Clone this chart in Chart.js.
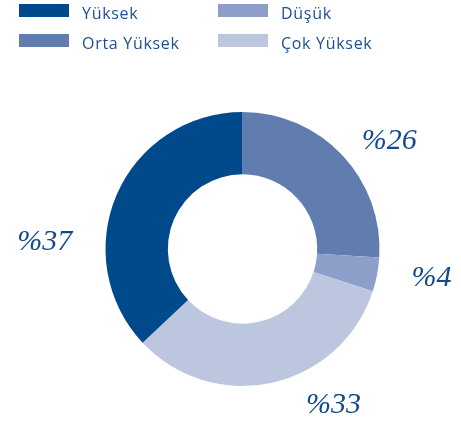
<!DOCTYPE html>
<html>
<head>
<meta charset="utf-8">
<script src="https://cdn.jsdelivr.net/npm/chart.js@4"></script>
<style>
  html, body { margin: 0; padding: 0; background: #fff; }
  #wrap { position: relative; width: 461px; height: 423px; overflow: hidden; }
  #c { position: absolute; left: 0; top: 0; }
  .leg { position: absolute; font-family: "Open Sans", sans-serif; font-size: 16px; color: #1d4f8e; line-height: 1; white-space: nowrap; letter-spacing: 0.7px; }
  .leg .sw { position: absolute; left: 0; top: 0; width: 50px; height: 13px; }
  .leg .tx { position: absolute; left: 63px; top: 1px; }
</style>
</head>
<body>
<div id="wrap">
  <canvas id="c" width="461" height="423"></canvas>
  <div id="legend"></div>
</div>
<script>
// Data (clockwise from top)
const categories = ["Orta Yüksek", "Düşük", "Çok Yüksek", "Yüksek"];
const values = [26, 4, 33, 37];
const valueLabels = ["%26", "%4", "%33", "%37"];
const colors = ["#617daf", "#8d9fc8", "#bcc7df", "#004a8c"];
// Legend order (row-major, 2 columns)
const legendOrder = ["Yüksek", "Düşük", "Orta Yüksek", "Çok Yüksek"];

// label placement: angle from top (deg, clockwise) and distance as fraction of outer radius
const labelPlacement = [
  { angle: 53.6, dist: 1.33 },
  { angle: 98.7, dist: 1.395 },
  { angle: 149.7, dist: 1.318 },
  { angle: 272, dist: 1.445 }
];

// HTML legend
const legendEl = document.getElementById('legend');
const colX = [19, 218];
const rowY = [3.5, 34];
legendOrder.forEach((name, i) => {
  const idx = categories.indexOf(name);
  const d = document.createElement('div');
  d.className = 'leg';
  d.style.left = colX[i % 2] + 'px';
  d.style.top = rowY[Math.floor(i / 2)] + 'px';
  d.innerHTML = '<div class="sw" style="background:' + colors[idx] + '"></div><div class="tx">' + name + '</div>';
  legendEl.appendChild(d);
});

const labelPlugin = {
  id: 'valueLabels',
  afterDatasetsDraw(chart) {
    const ctx = chart.ctx;
    const meta = chart.getDatasetMeta(0);
    ctx.save();
    ctx.font = 'italic 30px "Liberation Serif", serif';
    ctx.fillStyle = '#124b8b';
    ctx.textAlign = 'center';
    ctx.textBaseline = 'middle';
    meta.data.forEach((arc, i) => {
      const p = labelPlacement[i];
      const a = p.angle * Math.PI / 180;
      const r = arc.outerRadius * p.dist;
      const x = arc.x + Math.sin(a) * r;
      const y = arc.y - Math.cos(a) * r;
      ctx.fillText(valueLabels[i], x, y);
    });
    ctx.restore();
  }
};

new Chart(document.getElementById('c'), {
  type: 'doughnut',
  data: {
    labels: categories,
    datasets: [{
      data: values,
      backgroundColor: colors,
      borderWidth: 0,
      hoverOffset: 0,
      offset: 0
    }]
  },
  options: {
    responsive: false,
    animation: false,
    cutout: '54.5%',
    layout: { padding: { left: 105.5, right: 81.5, top: 112, bottom: 37 } },
    plugins: {
      legend: { display: false },
      tooltip: { enabled: false }
    }
  },
  plugins: [labelPlugin]
});
</script>
</body>
</html>
